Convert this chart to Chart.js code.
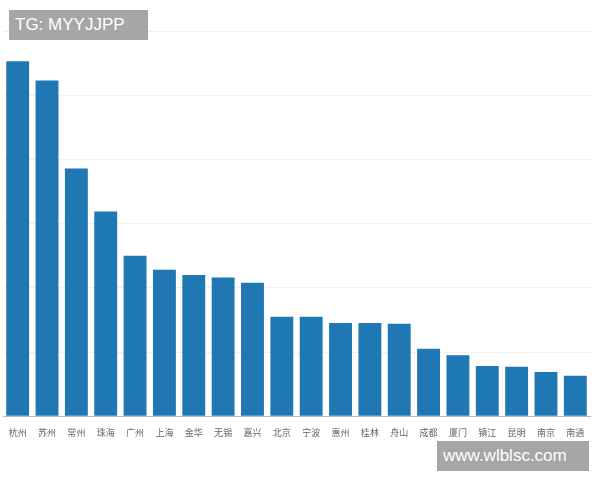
<!DOCTYPE html>
<html>
<head>
<meta charset="utf-8">
<script src="https://cdn.jsdelivr.net/npm/chart.js@4"></script>
<style>
  body { margin: 0; background: #fff; }
  #wrap { position: relative; width: 600px; height: 480px; }
  #chart { position: absolute; left: 0; top: 31px; }
  .tag { position: absolute; background: #a6a6a6; color: #fff; font-family: "Liberation Sans", Arial, sans-serif; font-size: 17px; padding: 0 6px; line-height: 30px; }
</style>
</head>
<body>
<div id="wrap">
  <canvas id="chart" width="600" height="410"></canvas>
  <div class="tag" style="left:9px;top:10px;width:127px;">TG: MYYJJPP</div>
  <div class="tag" style="left:437px;top:441px;width:140px;">www.wlblsc.com</div>
</div>
<script>
// ----------------- Datos -----------------
const cities = ['杭州', '苏州', '常州', '珠海', '广州', '上海', '金华', '无锡', '嘉兴', '北京',
  '宁波', '惠州', '桂林', '舟山', '成都', '厦门', '镇江', '昆明', '南京', '南通'];
const values = [5.53, 5.23, 3.86, 3.19, 2.5, 2.28, 2.2, 2.16, 2.08, 1.55,
  1.55, 1.45, 1.45, 1.44, 1.05, 0.95, 0.78, 0.77, 0.69, 0.63];

const ctx = document.getElementById('chart').getContext('2d');
new Chart(ctx, {
  type: 'bar',
  data: {
    labels: cities,
    datasets: [{
      data: values,
      backgroundColor: '#1f77b4',
      barPercentage: 0.78,
      categoryPercentage: 1
    }]
  },
  options: {
    responsive: false,
    animation: false,
    layout: { padding: { left: 3, right: 10 } },
    plugins: { legend: { display: false }, tooltip: { enabled: false } },
    scales: {
      x: {
        grid: { display: false },
        border: { color: '#bbb' },
        ticks: { color: '#666', font: { size: 9, family: 'Noto Sans CJK SC' }, maxRotation: 0, autoSkip: false }
      },
      y: {
        min: 0,
        max: 6,
        ticks: { display: false, stepSize: 1 },
        grid: { color: '#f0f0f0', drawTicks: false },
        border: { display: false }
      }
    }
  }
});
</script>
</body>
</html>
